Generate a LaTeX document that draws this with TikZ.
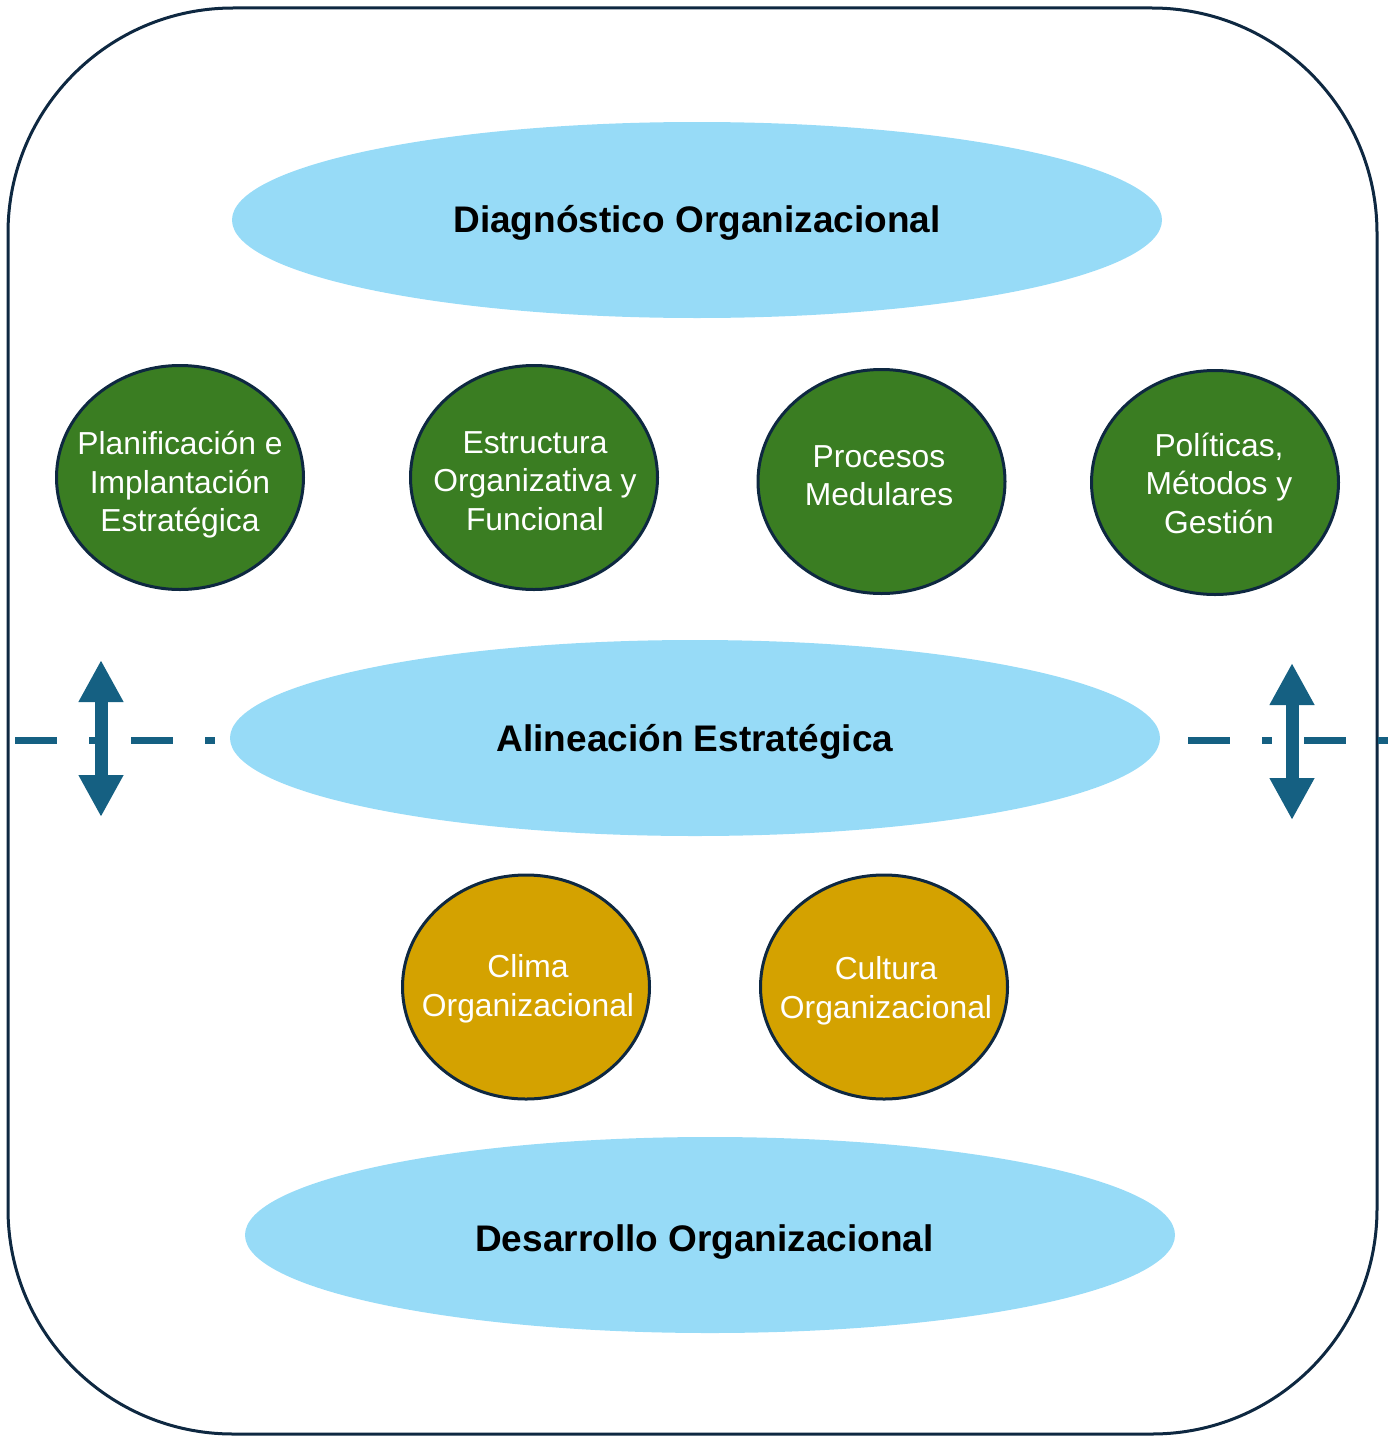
\documentclass[tikz,border=0pt]{standalone}
\usepackage{fontspec}
\setmainfont{Liberation Sans}
\usetikzlibrary{shapes.geometric,arrows.meta}
\definecolor{skyb}{HTML}{97DBF7}
\definecolor{leaf}{HTML}{3A7D22}
\definecolor{goldc}{HTML}{D4A200}
\definecolor{navyb}{HTML}{0E2841}
\definecolor{tealb}{HTML}{156082}
\tikzset{
  big/.style={ellipse, fill=skyb, draw=none, minimum width=930pt, minimum height=196pt, inner sep=0pt},
  bigtxt/.style={inner sep=0pt, text=black, font=\fontsize{37}{44}\selectfont\bfseries,
    execute at begin node=\strut},
  greenc/.style={ellipse, fill=leaf, draw=navyb, line width=3pt, minimum width=247pt, minimum height=224pt, inner sep=0pt},
  goldcirc/.style={greenc, fill=goldc},
  ctxt/.style={inner sep=0pt, align=center, text=white, font=\fontsize{31.8}{38.5}\selectfont,
    execute at begin node=\strut, execute at end node=\strut},
  dashln/.style={draw=tealb, line width=7pt, dash pattern=on 42pt off 32pt on 10pt off 32pt},
  dblarrow/.style={draw=tealb, line width=13pt, {Triangle[width=42pt,length=42pt]}-{Triangle[width=42pt,length=42pt]}}
}
\begin{document}
\begin{tikzpicture}[x=1pt,y=-1pt]
\useasboundingbox (0,0) rectangle (1388,1437);
\draw[navyb, line width=3pt, rounded corners=225pt] (8,8) rectangle (1377,1434);

\node[big] (diag) at (697,220) {};
\node[big] (alin) at (695,738) {};
\node[big] (desa) at (710,1235) {};
\node[bigtxt] (diagt) at (697,223.5) {Diagnóstico Organizacional};
\node[bigtxt] (alint) at (695,742.2) {Alineación Estratégica};
\node[bigtxt] (desat) at (704.5,1242.2) {Desarrollo Organizacional};

\node[greenc] (plan) at (180,477.5) {};
\node[greenc] (estr) at (534,477.5) {};
\node[greenc] (proc) at (881.5,481.5) {};
\node[greenc] (poli) at (1215,482.5) {};
\node[goldcirc] (clima) at (526,987) {};
\node[goldcirc] (cult) at (884,987) {};

\node[ctxt] (plant) at (180,487.5) {Planificación e\\Implantación\\Estratégica};
\node[ctxt] (estrt) at (535,486.5) {Estructura\\Organizativa y\\Funcional};
\node[ctxt] (proct) at (879,481.3) {Procesos\\Medulares};
\node[ctxt] (polit) at (1219,489) {Políticas,\\Métodos y\\Gestión};
\node[ctxt] (climat) at (528,991) {Clima\\Organizacional};
\node[ctxt] (cultt) at (886,993) {Cultura\\Organizacional};

\coordinate (dl1) at (15,740);
\coordinate (dl2) at (218,740);
\coordinate (dr1) at (1188,740);
\coordinate (dr2) at (1400,740);
\begin{scope}
\clip (0,0) rectangle (1388,1437);
\draw[dashln] (dl1) -- (dl2);
\draw[dashln] (dr1) -- (dr2);
\end{scope}

\coordinate (al1) at (101,660);
\coordinate (al2) at (101,817);
\coordinate (ar1) at (1292,663);
\coordinate (ar2) at (1292,820);
\draw[dblarrow] (al1) -- (al2);
\draw[dblarrow] (ar1) -- (ar2);
\end{tikzpicture}
\end{document}
